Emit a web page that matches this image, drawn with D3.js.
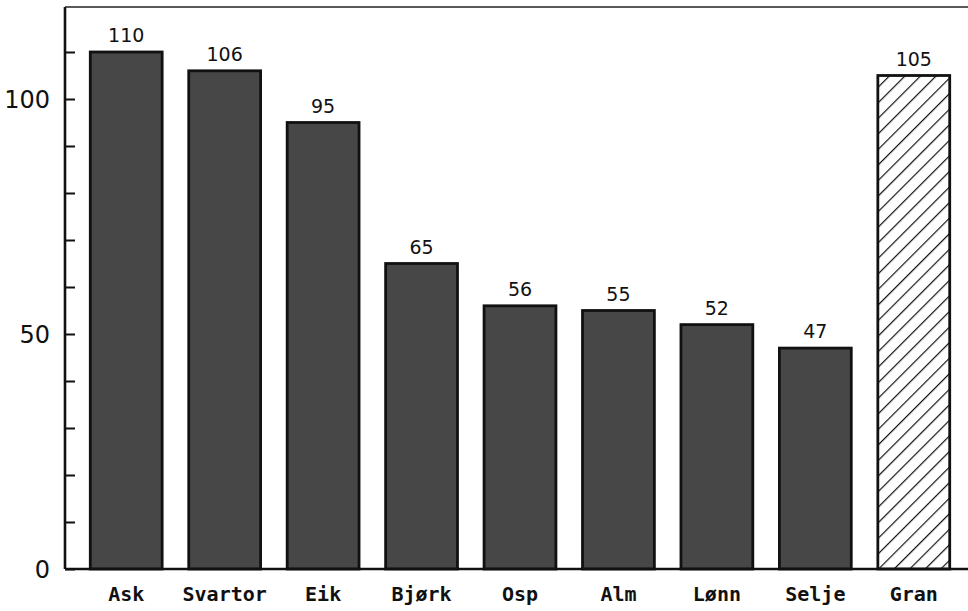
<!DOCTYPE html>
<html><head><meta charset="utf-8">
<script src="https://cdn.jsdelivr.net/npm/d3@7"></script>
<style>body{margin:0;background:#fff}svg{display:block}</style>
</head><body>
<script>
const categories = ["Ask","Svartor","Eik","Bjørk","Osp","Alm","Lønn","Selje","Gran"];
const values = [110,106,95,65,56,55,52,47,105];
const hatched = [false,false,false,false,false,false,false,false,true];
const majorTicks = [0,50,100];
const minorTicks = [10,20,30,40,60,70,80,90,110];

const W=968,H=611;
const svg=d3.select("body").append("svg").attr("width",W).attr("height",H);
const defs=svg.append("defs");
const pat=defs.append("pattern").attr("id","hatch").attr("patternUnits","userSpaceOnUse")
  .attr("width",11).attr("height",11).attr("patternTransform","rotate(45)");
pat.append("rect").attr("width",11).attr("height",11).attr("fill","#fff");
pat.append("line").attr("x1",0).attr("y1",0).attr("x2",0).attr("y2",11).attr("stroke","#111").attr("stroke-width",2.4);

const x=d3.scaleBand().domain(categories).range([77,963]).paddingInner(0.27).paddingOuter(0.135);
const y=d3.scaleLinear().domain([0,120]).range([569,5]);
const left=65;

// bars
svg.selectAll("rect.bar").data(categories).join("rect").attr("class","bar")
  .attr("x",d=>x(d)).attr("width",x.bandwidth())
  .attr("y",(d,i)=>y(values[i])).attr("height",(d,i)=>y(0)-y(values[i]))
  .attr("fill",(d,i)=>hatched[i]?"url(#hatch)":"#474747")
  .attr("stroke","#111").attr("stroke-width",2.8);

// value labels
svg.selectAll("text.val").data(categories).join("text").attr("class","val")
  .attr("x",d=>x(d)+x.bandwidth()/2).attr("y",(d,i)=>y(values[i])-10)
  .attr("text-anchor","middle").attr("font-family","DejaVu Sans").attr("font-size",19)
  .attr("fill","#111").text((d,i)=>values[i]);

// frame: left axis, bottom axis, top line
svg.append("line").attr("x1",left).attr("x2",left).attr("y1",y(120)+2).attr("y2",y(0)).attr("stroke","#111").attr("stroke-width",2.6);
svg.append("line").attr("x1",left).attr("x2",W).attr("y1",y(0)).attr("y2",y(0)).attr("stroke","#111").attr("stroke-width",2.6);
svg.append("line").attr("x1",left).attr("x2",W).attr("y1",y(120)+2).attr("y2",y(120)+2).attr("stroke","#222").attr("stroke-width",1.6);

// y axis ticks (drawn inward)
const yAxis=d3.axisRight(y).tickValues(majorTicks.concat(minorTicks)).tickSize(10).tickFormat("");
const ga=svg.append("g").attr("transform",`translate(${left},0)`).call(yAxis);
ga.select(".domain").remove();
ga.selectAll(".tick line").attr("stroke","#111").attr("stroke-width",2);
svg.selectAll("text.ylab").data(majorTicks).join("text").attr("class","ylab")
  .attr("x",50).attr("y",d=>y(d)+9).attr("text-anchor","end")
  .attr("font-family","DejaVu Sans").attr("font-size",24).attr("fill","#111").text(d=>d);

// x labels
const xAxis=d3.axisBottom(x).tickSize(0).tickPadding(0);
const gx=svg.append("g").attr("transform",`translate(0,${y(0)})`).call(xAxis);
gx.select(".domain").remove();
gx.selectAll(".tick text").attr("dy",0).attr("y",32).attr("font-family","DejaVu Sans Mono")
  .attr("font-size",20).attr("font-weight","bold").attr("fill","#111");
</script>
</body></html>
